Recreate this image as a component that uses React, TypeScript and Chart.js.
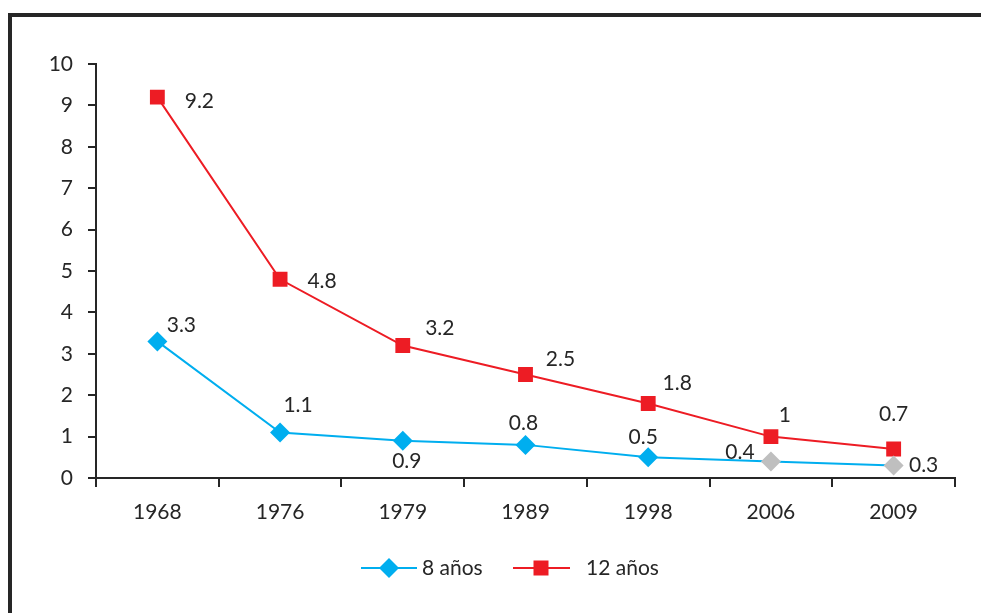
import React, { useEffect, useRef } from "react";
import { Chart, registerables } from "chart.js";

Chart.register(...registerables);

const categories = ["1968", "1976", "1979", "1989", "1998", "2006", "2009"];
const seriesNames = ["8 años", "12 años"];
const values8 = [3.3, 1.1, 0.9, 0.8, 0.5, 0.4, 0.3];
const values12 = [9.2, 4.8, 3.2, 2.5, 1.8, 1, 0.7];
const labels8 = ["3.3", "1.1", "0.9", "0.8", "0.5", "0.4", "0.3"];
const labels12 = ["9.2", "4.8", "3.2", "2.5", "1.8", "1", "0.7"];
const yTicks = [0, 1, 2, 3, 4, 5, 6, 7, 8, 9, 10];

// styling: label offsets (px) from each point
const offsets8 = [
  [24, -16], [18, -27], [4, 20], [-2, -22], [-5, -20], [-31, -9], [30, 0],
];
const offsets12 = [
  [42, 4], [42, 2], [37, -17], [35, -15], [29, -20], [14, -21], [0, -35],
];

const BLUE = "#00AEEF";
const RED = "#ED1C24";
const GRAY = "#BFBFBF";
const DARK = "#262626";
const FONT = "Lato, 'Open Sans', sans-serif";
const FS = 21;

function drawDiamond(ctx: CanvasRenderingContext2D, x: number, y: number, r: number, color: string) {
  ctx.beginPath();
  ctx.moveTo(x, y - r);
  ctx.lineTo(x + r, y);
  ctx.lineTo(x, y + r);
  ctx.lineTo(x - r, y);
  ctx.closePath();
  ctx.fillStyle = color;
  ctx.fill();
}

const extrasPlugin = {
  id: "extras",
  beforeDraw(chart: any) {
    const ctx = chart.ctx as CanvasRenderingContext2D;
    ctx.save();
    ctx.fillStyle = DARK;
    ctx.fillRect(8, 13, chart.width - 8, 4);
    ctx.fillRect(8, 13, 4, chart.height - 13);
    ctx.restore();
  },
  afterDatasetsDraw(chart: any) {
    const ctx = chart.ctx as CanvasRenderingContext2D;
    ctx.save();
    ctx.font = `${FS}px ${FONT}`;
    ctx.fillStyle = DARK;
    ctx.textAlign = "center";
    ctx.textBaseline = "middle";
    const allLabels = [labels8, labels12];
    const allOffsets = [offsets8, offsets12];
    chart.data.datasets.forEach((ds: any, di: number) => {
      const meta = chart.getDatasetMeta(di);
      meta.data.forEach((pt: any, i: number) => {
        const [dx, dy] = allOffsets[di][i];
        ctx.fillText(allLabels[di][i], pt.x + dx, pt.y + dy);
      });
    });

    // legend
    const ly = 568;
    ctx.lineWidth = 2;
    ctx.strokeStyle = BLUE;
    ctx.beginPath();
    ctx.moveTo(361, ly);
    ctx.lineTo(417, ly);
    ctx.stroke();
    drawDiamond(ctx, 389, ly, 10, BLUE);
    ctx.textAlign = "left";
    ctx.fillStyle = DARK;
    ctx.fillText(seriesNames[0], 422, ly);

    ctx.strokeStyle = RED;
    ctx.beginPath();
    ctx.moveTo(513, ly);
    ctx.lineTo(570, ly);
    ctx.stroke();
    ctx.fillStyle = RED;
    ctx.fillRect(541 - 7.5, ly - 7.5, 15, 15);
    ctx.fillStyle = DARK;
    ctx.fillText(seriesNames[1], 586, ly);
    ctx.restore();
  },
};

export default function App() {
  const ref = useRef<HTMLCanvasElement | null>(null);
  useEffect(() => {
    if (!ref.current) return;
    const blueColors = values8.map((_, i) => (i >= 5 ? GRAY : BLUE));
    const chart = new Chart(ref.current, {
      type: "line",
      data: {
        labels: categories,
        datasets: [
          {
            label: seriesNames[0],
            data: values8,
            borderColor: BLUE,
            borderWidth: 2,
            pointStyle: "rectRot",
            pointRadius: 10,
            pointHoverRadius: 10,
            pointBackgroundColor: blueColors,
            pointBorderColor: blueColors,
            pointBorderWidth: 0,
            tension: 0,
          },
          {
            label: seriesNames[1],
            data: values12,
            borderColor: RED,
            borderWidth: 2,
            pointStyle: "rect",
            pointRadius: 10.5,
            pointHoverRadius: 10.5,
            pointBackgroundColor: RED,
            pointBorderColor: RED,
            pointBorderWidth: 0,
            tension: 0,
          },
        ],
      },
      options: {
        responsive: false,
        animation: false,
        events: [],
        layout: { padding: { left: 0, right: 26, top: 64, bottom: 0 } },
        plugins: {
          legend: { display: false },
          tooltip: { enabled: false },
        },
        scales: {
          x: {
            type: "category",
            offset: true,
            grid: {
              offset: true,
              drawOnChartArea: false,
              drawTicks: true,
              tickLength: 9,
              color: DARK,
              lineWidth: 2,
            },
            border: { display: true, color: DARK, width: 2 },
            ticks: {
              color: DARK,
              font: { family: FONT, size: FS },
              padding: 13,
              maxRotation: 0,
            },
            afterFit(scale: any) {
              scale.height = 135;
            },
          },
          y: {
            min: 0,
            max: 10,
            afterBuildTicks(scale: any) {
              scale.ticks = yTicks.map((v) => ({ value: v }));
            },
            grid: {
              drawOnChartArea: false,
              drawTicks: true,
              tickLength: 8,
              color: DARK,
              lineWidth: 2,
            },
            border: { display: true, color: DARK, width: 2 },
            ticks: {
              color: DARK,
              font: { family: FONT, size: FS },
              padding: 15,
            },
            afterFit(scale: any) {
              scale.width = 96;
            },
          },
        },
      },
      plugins: [extrasPlugin],
    });
    return () => chart.destroy();
  }, []);
  return (
    <div style={{ position: "fixed", left: 0, top: 0, width: 981, height: 613, background: "#fff" }}>
      <canvas ref={ref} width={981} height={613} style={{ display: "block" }} />
    </div>
  );
}
